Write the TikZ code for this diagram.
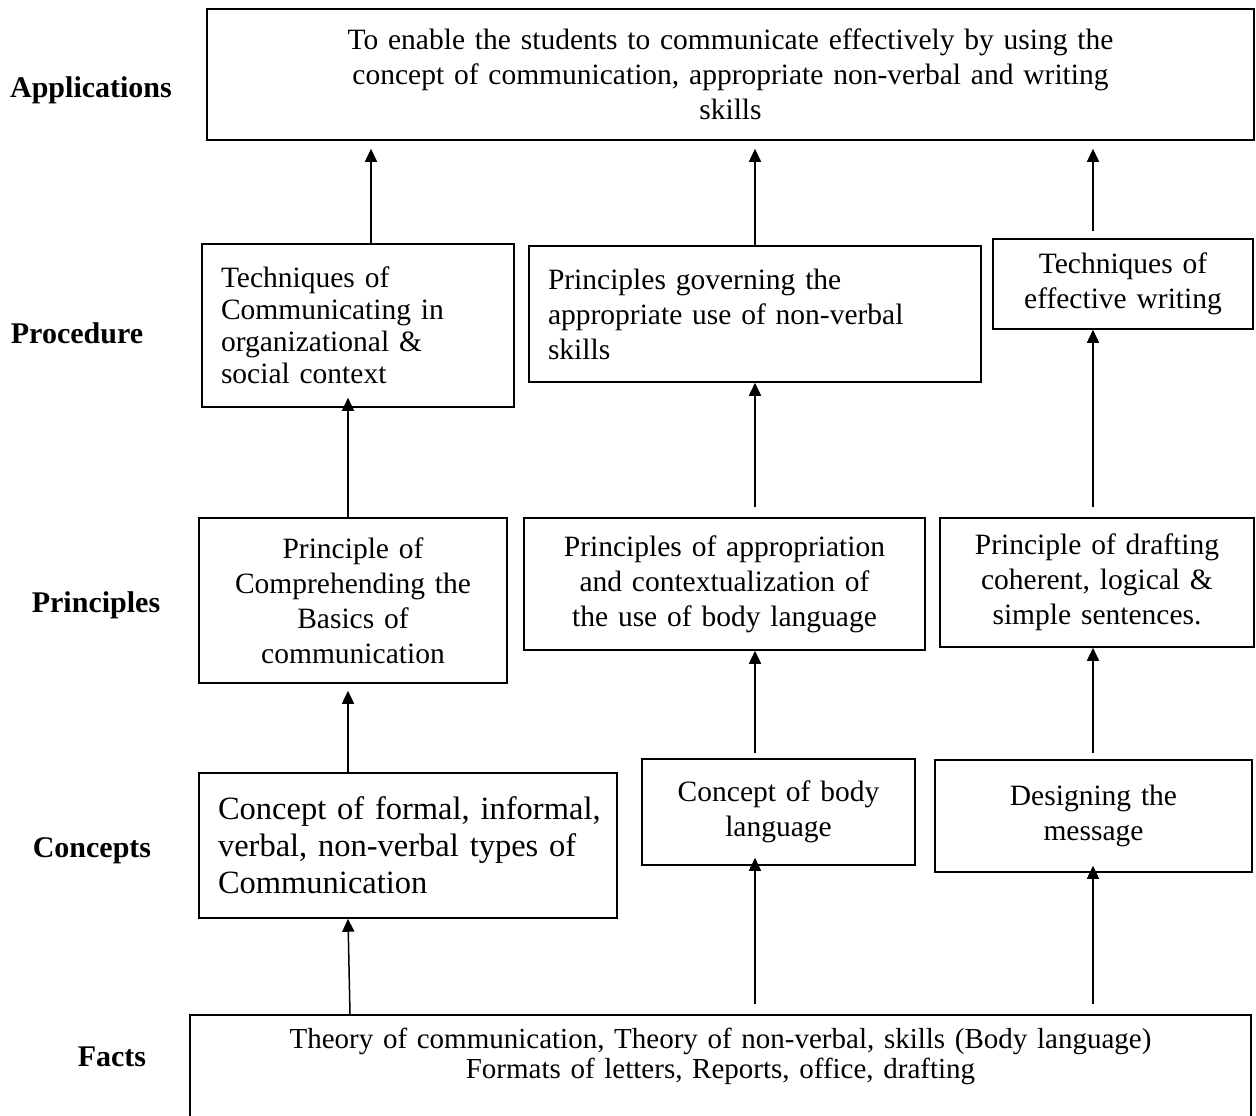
\documentclass[tikz,border=0pt]{standalone}
\usepackage{fontspec}
\setmainfont{Liberation Serif}
\usetikzlibrary{arrows.meta, positioning}

\begin{document}
\begin{tikzpicture}[
    x=1pt, y=-1pt,
    every node/.style={font=\fontsize{29.5}{35}\selectfont},
    box/.style={rectangle, draw, line width=1.5pt, inner xsep=19pt, inner ysep=0pt, align=center},
    leftbox/.style={box, align=left},
    level/.style={font=\fontsize{30}{36}\selectfont\bfseries},
    arrow/.style={-{Triangle[length=13pt, width=12pt]}, line width=1.5pt}
  ]
  \useasboundingbox (0,0) rectangle (1256,1116);

  % level names
  \node[level] (lapp) at (91,90) {Applications};
  \node[level] (lproc) at (77,333) {Procedure};
  \node[level] (lprinc) at (96,605) {Principles};
  \node[level] (lcon) at (92,851) {Concepts};
  \node[level] (lfacts) at (112,1057) {Facts};

  \node[box, text width=1009pt, minimum height=131pt] (app) at (730.5,74.5)
  {To enable the students to communicate effectively by using the\\
  concept of communication, appropriate non-verbal and writing\\
  skills};

  \node[leftbox, text width=274pt, minimum height=163pt, font=\fontsize{29.5}{32}\selectfont] (proc1) at (358,325.5)
  {Techniques of\\ Communicating in\\ organizational \&\\ social context};
  \node[leftbox, text width=414pt, minimum height=136pt] (proc2) at (755,314)
  {Principles governing the\\ appropriate use of non-verbal\\ skills};
  \node[box, text width=222pt, minimum height=90pt] (proc3) at (1123,284)
  {Techniques of\\ effective writing};

  \node[box, text width=270pt, minimum height=165pt] (princ1) at (353,600.5)
  {Principle of\\ Comprehending the\\ Basics of\\ communication};
  \node[box, text width=363pt, minimum height=132pt] (princ2) at (724.5,584)
  {Principles of appropriation\\ and contextualization of\\ the use of body language};
  \node[box, text width=276pt, minimum height=129pt] (princ3) at (1097,582.5)
  {Principle of drafting\\ coherent, logical \&\\ simple sentences.};

  \node[leftbox, text width=380pt, minimum height=145pt, font=\fontsize{32.5}{37}\selectfont] (con1) at (408,845.5)
  {\mbox{Concept of formal, informal,}\\ \mbox{verbal, non-verbal types of}\\ Communication};
  \node[box, text width=235pt, minimum height=106pt] (con2) at (778.5,812)
  {Concept of body\\ language};
  \node[box, text width=279pt, minimum height=112pt] (con3) at (1093.5,816)
  {Designing the\\ message};

  \node[box, text width=1023pt, minimum height=116pt, font=\fontsize{29}{30}\selectfont] (facts) at (720.5,1073)
  {Theory of communication, Theory of non-verbal, skills (Body language)\\
  Formats of letters, Reports, office, drafting\\ \strut};

  % arrow columns
  \coordinate (colA) at (348,0);
  \coordinate (colB) at (371,0);
  \coordinate (colC) at (755,0);
  \coordinate (colD) at (1093,0);
  \coordinate (colE) at (350,0);

  \draw[arrow] (facts.north -| colE) -- (con1.south -| colA);
  \draw[arrow, shorten <=10pt, shorten >=-8pt] (facts.north -| colC) -- (con2.south -| colC);
  \draw[arrow, shorten <=10pt, shorten >=-7pt] (facts.north -| colD) -- (con3.south -| colD);

  \draw[arrow, shorten >=7pt] (con1.north -| colA) -- (princ1.south -| colA);
  \draw[arrow, shorten <=5pt] (con2.north -| colC) -- (princ2.south -| colC);
  \draw[arrow, shorten <=6pt] (con3.north -| colD) -- (princ3.south -| colD);

  \draw[arrow, shorten >=-10pt] (princ1.north -| colA) -- (proc1.south -| colA);
  \draw[arrow, shorten <=10pt] (princ2.north -| colC) -- (proc2.south -| colC);
  \draw[arrow, shorten <=10pt] (princ3.north -| colD) -- (proc3.south -| colD);

  \draw[arrow, shorten >=8pt] (proc1.north -| colB) -- (app.south -| colB);
  \draw[arrow, shorten >=8pt] (proc2.north -| colC) -- (app.south -| colC);
  \draw[arrow, shorten <=7pt, shorten >=8pt] (proc3.north -| colD) -- (app.south -| colD);

\end{tikzpicture}
\end{document}
